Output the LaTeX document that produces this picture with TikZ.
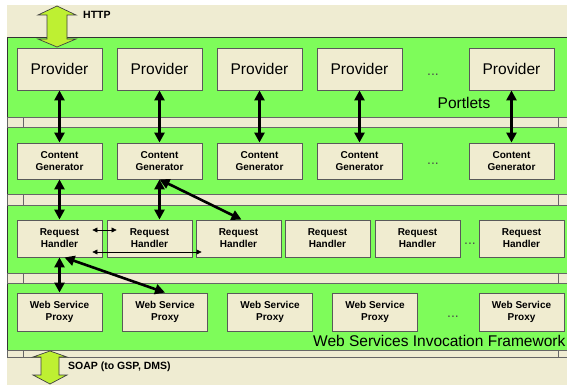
\documentclass[tikz,border=0pt]{standalone}
\usepackage{fontspec}
\setmainfont{Liberation Sans}
\usetikzlibrary{arrows.meta}
\definecolor{bgbeige}{RGB}{239,236,210}
\definecolor{boxbeige}{RGB}{240,236,208}
\definecolor{layergreen}{RGB}{126,252,90}
\definecolor{limearrow}{RGB}{190,240,50}
\begin{document}
\begin{tikzpicture}[x=1pt,y=-1pt,
  layer/.style={draw=black!80, line width=0.9pt, fill=layergreen},
  strip/.style={draw=black!60, line width=0.8pt, fill=bgbeige},
  box/.style={draw=black!65, line width=0.9pt, fill=boxbeige, minimum width=85pt, inner sep=0pt, align=center},
  provbox/.style={box, minimum height=42pt, font=\fontsize{15.5}{18}\selectfont},
  cgbox/.style={box, minimum height=36pt, font=\fontsize{10}{12}\selectfont\bfseries},
  rhbox/.style={box, minimum height=37pt, font=\fontsize{10}{12}\selectfont\bfseries},
  wsbox/.style={box, minimum height=38pt, font=\fontsize{10}{12.5}\selectfont\bfseries},
  bigtext/.style={inner sep=0pt, font=\fontsize{15.5}{18}\selectfont},
  lbltext/.style={inner sep=0pt, font=\fontsize{10.5}{12}\selectfont\bfseries},
  dots/.style={inner sep=0pt, text=black!70, font=\fontsize{14}{14}\selectfont},
  tharrow/.style={line width=2.6pt, {Triangle[length=10pt,width=10pt]}-{Triangle[length=10pt,width=10pt]}},
  tnarrow/.style={line width=0.6pt, {Triangle[length=5pt,width=5pt]}-{Triangle[length=5pt,width=5pt]}},
  blockarrow/.style={draw=black!75, line width=0.7pt, fill=limearrow, line join=miter}
]
\useasboundingbox (0,0) rectangle (567,385);
\fill[white] (0,0) rectangle (567,385);
\fill[bgbeige] (7,5) rectangle (567,385);

% layers
\draw[layer] (7,37) rectangle (575,117);
\draw[layer] (7,127) rectangle (575,194);
\draw[layer] (7,205) rectangle (575,273);
\draw[layer] (7,283) rectangle (575,350);

% strips between layers
\foreach \ya/\yb in {117/127,194/205,273/283,350/357}{
  \draw[strip] (7,\ya) rectangle (23,\yb);
  \draw[strip] (23,\ya) rectangle (558,\yb);
  \draw[strip] (558,\ya) rectangle (575,\yb);
}

% Providers
\node[provbox] (p1) at (59.5,69) {Provider};
\node[provbox] (p2) at (159.5,69) {Provider};
\node[provbox] (p3) at (259.5,69) {Provider};
\node[provbox] (p4) at (359.5,69) {Provider};
\node[provbox] (p5) at (511.5,69) {Provider};
\node[dots] (pd) at (433,75) {...};
\node[bigtext] (portlets) at (464,103) {Portlets};

% Content generators
\node[cgbox] (cg1) at (59.5,161) {Content\\Generator};
\node[cgbox] (cg2) at (159.5,161) {Content\\Generator};
\node[cgbox] (cg3) at (259.5,161) {Content\\Generator};
\node[cgbox] (cg4) at (359.5,161) {Content\\Generator};
\node[cgbox] (cg5) at (511.5,161) {Content\\Generator};
\node[dots] (cgd) at (433,164) {...};

% Request handlers
\node[rhbox] (rh1) at (59.5,238.5) {Request\\Handler};
\node[rhbox] (rh2) at (149.5,238.5) {Request\\Handler};
\node[rhbox] (rh3) at (238.5,238.5) {Request\\Handler};
\node[rhbox] (rh4) at (327.5,238.5) {Request\\Handler};
\node[rhbox] (rh5) at (417.5,238.5) {Request\\Handler};
\node[rhbox] (rh6) at (521.5,238.5) {Request\\Handler};
\node[dots] (rhd) at (470,244) {...};

% Web service proxies
\node[wsbox] (ws1) at (59.5,312) {Web Service\\Proxy};
\node[wsbox] (ws2) at (165,312) {Web Service\\Proxy};
\node[wsbox] (ws3) at (270,312) {Web Service\\Proxy};
\node[wsbox] (ws4) at (375,312) {Web Service\\Proxy};
\node[wsbox] (ws5) at (521.5,312) {Web Service\\Proxy};
\node[dots] (wsd) at (453,317) {...};
\node[bigtext, anchor=west] (wsif) at (313,341) {Web Services Invocation Framework};

% thick arrows
\draw[tharrow] (p1) -- (cg1);
\draw[tharrow] (p2) -- (cg2);
\draw[tharrow] (p3) -- (cg3);
\draw[tharrow] (p4) -- (cg4);
\draw[tharrow] (p5) -- (cg5);
\draw[tharrow] (cg1) -- (rh1);
\draw[tharrow] (cg2.south) -- (cg2.south |- rh2.north);
\draw[tharrow] (cg2.south) -- ([xshift=3pt]rh3.north);
\draw[tharrow] (rh1) -- (ws1);
\draw[tharrow] ([xshift=5pt]rh1.south) -- (ws2.north);

% thin arrows
\draw[tnarrow] ([xshift=-10pt,yshift=8.5pt]rh1.east) -- ([xshift=10pt,yshift=8.5pt]rh2.west);
\draw[tnarrow] ([xshift=-10pt,yshift=-13.5pt]rh1.east) -- ([xshift=6pt,yshift=-13.5pt]rh3.west);

% HTTP block arrow
\draw[blockarrow] (57,6) -- (76,15) -- (67,15) -- (67,39) -- (76,39) -- (57,47) -- (38,39) -- (47,39) -- (47,15) -- (38,15) -- cycle;
\node[lbltext, anchor=west] (http) at (83,15) {HTTP};

% SOAP block arrow
\draw[blockarrow] (50,351) -- (67,357) -- (59,357) -- (59,375) -- (67,375) -- (50,384) -- (33,375) -- (41,375) -- (41,357) -- (33,357) -- cycle;
\node[lbltext, anchor=west] (soap) at (68,367) {SOAP (to GSP, DMS)};
\end{tikzpicture}
\end{document}
